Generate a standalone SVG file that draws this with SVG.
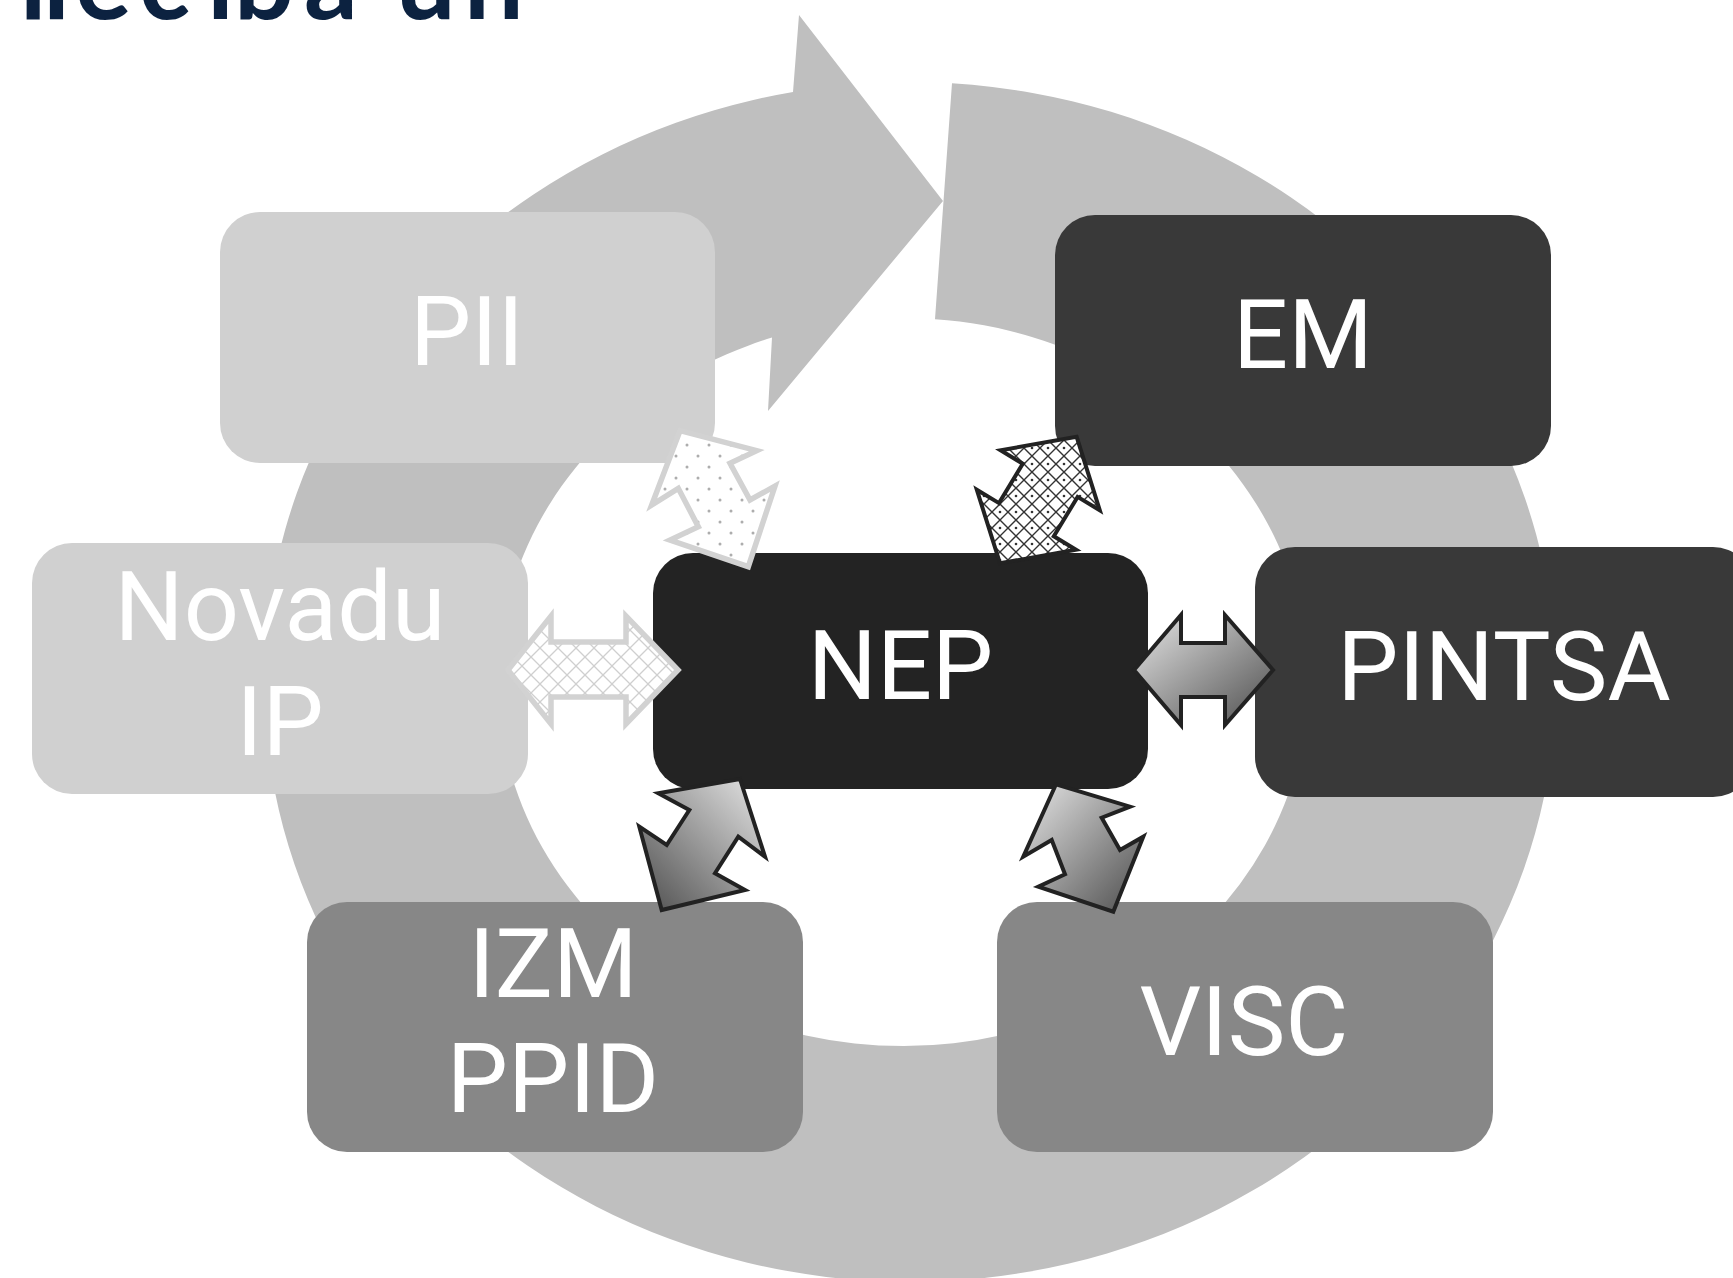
<svg xmlns="http://www.w3.org/2000/svg" width="1733" height="1278" viewBox="0 0 1733 1278">
<style>
.lbl{font-family:Roboto,"Liberation Sans",Arial,sans-serif;font-size:97px;fill:#ffffff;text-anchor:middle}
.light{fill:#d0d0d0}
.dark{fill:#393939}
.mid{fill:#878787}
.darkArrow{stroke:#222222;stroke-width:4;stroke-linejoin:miter}
.lightArrow{stroke:#d2d2d2;stroke-width:5.5;stroke-linejoin:miter}
</style>
<defs>
<pattern id="dots" width="22" height="22" patternUnits="userSpaceOnUse">
<rect width="22" height="22" fill="#ffffff"/>
<circle cx="5" cy="5" r="1.5" fill="#adadad"/>
<circle cx="16" cy="16" r="1.5" fill="#adadad"/>
</pattern>
<pattern id="latticeDark" width="16" height="16" patternUnits="userSpaceOnUse">
<rect width="16" height="16" fill="#ffffff"/>
<path d="M0,0 L16,16 M16,0 L0,16" stroke="#333333" stroke-width="1.4"/>
<circle cx="8" cy="0" r="1.3" fill="#333333"/>
<circle cx="8" cy="16" r="1.3" fill="#333333"/>
</pattern>
<pattern id="latticeLight" width="18" height="18" patternUnits="userSpaceOnUse">
<rect width="18" height="18" fill="#ffffff"/>
<path d="M0,0 L18,18 M18,0 L0,18" stroke="#cfcfcf" stroke-width="1.3"/>
</pattern>
<linearGradient id="gDown" x1="0" y1="0" x2="1" y2="1">
<stop offset="0" stop-color="#e6e6e6"/>
<stop offset="1" stop-color="#4d4d4d"/>
</linearGradient>
<linearGradient id="gDownLeft" x1="1" y1="0" x2="0" y2="1">
<stop offset="0" stop-color="#e6e6e6"/>
<stop offset="1" stop-color="#4d4d4d"/>
</linearGradient>
</defs>
<rect width="1733" height="1278" fill="#ffffff"/>
<g id="cycle">
<path d="M952,83.27 A646,600 0 1 1 793,91.92 L799,15 L943,201 L768,411 L772,337.57 A405,364 0 1 0 935,319.14 Z" fill="#bfbfbf"/>
</g>
<g id="node-PII">
<rect class="light" x="220" y="212" width="495" height="251" rx="40"/>
<text class="lbl" x="467" y="365">PII</text>
</g>
<g id="node-EM">
<rect class="dark" x="1055" y="215" width="496" height="251" rx="40"/>
<text class="lbl" x="1303" y="368">EM</text>
</g>
<g id="node-Novadu">
<rect class="light" x="32" y="543" width="496" height="251" rx="40"/>
<text class="lbl" x="280" y="640">Novadu</text>
<text class="lbl" x="280" y="755">IP</text>
</g>
<g id="node-NEP">
<rect x="653" y="553" width="495" height="236" rx="40" fill="#232323"/>
<text class="lbl" x="900.5" y="699">NEP</text>
</g>
<g id="node-PINTSA">
<rect class="dark" x="1255" y="547" width="498" height="250" rx="40"/>
<text class="lbl" x="1504" y="700">PINTSA</text>
</g>
<g id="node-IZM">
<rect class="mid" x="307" y="902" width="496" height="250" rx="40"/>
<text class="lbl" x="553" y="997">IZM</text>
<text class="lbl" x="553" y="1112">PPID</text>
</g>
<g id="node-VISC">
<rect class="mid" x="997" y="902" width="496" height="250" rx="40"/>
<text class="lbl" x="1244" y="1055">VISC</text>
</g>
<g id="connectors">
<polygon class="lightArrow" fill="url(#dots)" points="680,430.7 756.7,450.7 730,463.3 750,500 775,486 748.3,566.7 670,540 698.3,526.7 678.3,488.3 651.7,505"/>
<polygon class="darkArrow" fill="url(#latticeDark)" points="1076.6,436.7 1099.8,510.3 1077.6,496.9 1053.8,536.3 1076,549.7 1000,563.3 976.8,489.7 999,503.1 1022.8,463.7 1000.6,450.3"/>
<polygon class="lightArrow" fill="url(#latticeLight)" points="508,670 551,616 551,642 626,642 626,616 678,670 626,724 626,697 551,697 551,724"/>
<polygon class="darkArrow" fill="url(#gDown)" points="1134,670 1181,615 1181,643 1225,643 1225,615 1273,670 1225,725 1225,697 1181,697 1181,725"/>
<polygon class="darkArrow" fill="url(#gDownLeft)" points="740,779 765,856.7 738.3,836.7 715,873.3 745,890 661.7,910 639.3,826.7 666.7,845 689.3,810 658.3,793.3"/>
<polygon class="darkArrow" fill="url(#gDown)" points="1056,784.3 1130,806.7 1101.7,817.7 1120,850 1143.3,836.7 1113.3,911.7 1038.3,886.7 1065,874.3 1051.7,840 1023.3,856.7"/>
</g>
<g id="title">
<text x="20 43 75 139 207 234 304 370 396 464" y="19" font-family="Lato,'Liberation Sans',sans-serif" font-weight="700" font-size="106" fill="#0c2240">liecība un</text>
</g>
</svg>
